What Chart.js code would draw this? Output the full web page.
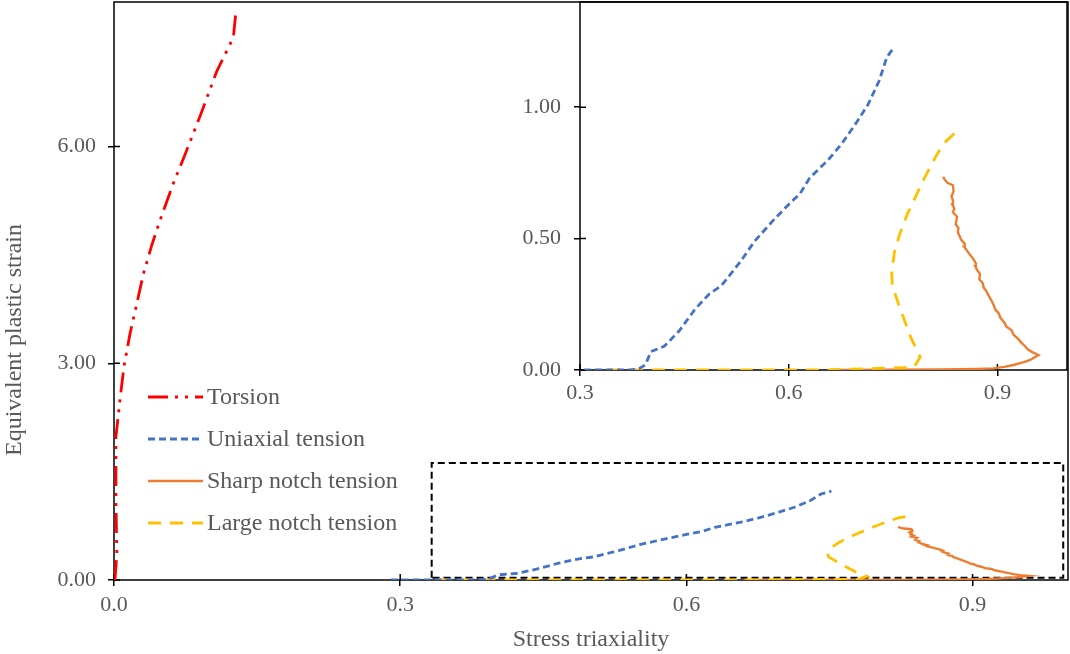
<!DOCTYPE html>
<html>
<head>
<meta charset="utf-8">
<script src="https://cdn.jsdelivr.net/npm/chart.js@4.4.1/dist/chart.umd.min.js"></script>
<style>
    html, body { margin: 0; padding: 0; background: #fff; }
    #wrap { position: relative; width: 1070px; height: 654px; }
    #mainChart { position: absolute; left: 0; top: 0; }
    #insetChart { position: absolute; left: 500px; top: 0; }
</style>
</head>
<body>
<div id="wrap">
    <canvas id="mainChart" width="1070" height="654"></canvas>
    <canvas id="insetChart" width="570" height="410"></canvas>
</div>
<script>
// Torsion path (stress triaxiality vs. equivalent plastic strain)
var torsionX = [0.001, 0.003, 0.002, 0.002, 0.0035, 0.0063, 0.0105, 0.0168, 0.0238, 0.0307, 0.0395, 0.0483, 0.0622, 0.0727, 0.0902, 0.1077, 0.1251, 0.1277];
var torsionY = [0.00, 0.37, 1.12, 1.98, 2.16, 2.50, 2.96, 3.41, 3.82, 4.23, 4.63, 4.98, 5.49, 5.83, 6.42, 7.04, 7.51, 7.85];

var uniaxialX = [0.29, 0.373, 0.385, 0.394, 0.402, 0.421, 0.443, 0.465, 0.486, 0.503, 0.530, 0.551, 0.578, 0.600, 0.616, 0.630, 0.657, 0.676, 0.697, 0.714, 0.730, 0.741, 0.752];
var uniaxialY = [0.00, 0.00, 0.005, 0.02, 0.07, 0.09, 0.15, 0.23, 0.29, 0.32, 0.41, 0.49, 0.57, 0.63, 0.67, 0.73, 0.80, 0.86, 0.94, 1.01, 1.10, 1.19, 1.23];

var sharpX = [0.66, 0.75, 0.82, 0.87, 0.894, 0.910, 0.923, 0.938, 0.947, 0.959, 0.950, 0.944, 0.938, 0.934, 0.929, 0.923, 0.920, 0.913, 0.910, 0.904, 0.902, 0.897, 0.895, 0.891, 0.888, 0.884, 0.880, 0.879, 0.874, 0.875, 0.871, 0.868, 0.869, 0.866, 0.860, 0.856, 0.852, 0.853, 0.848, 0.846, 0.843, 0.844, 0.840, 0.842, 0.836, 0.838, 0.835, 0.836, 0.834, 0.837, 0.836, 0.828, 0.824, 0.822];
var sharpY = [0.00, 0.001, 0.002, 0.004, 0.006, 0.012, 0.019, 0.03, 0.038, 0.057, 0.068, 0.078, 0.095, 0.105, 0.12, 0.135, 0.152, 0.165, 0.18, 0.20, 0.215, 0.23, 0.245, 0.266, 0.28, 0.30, 0.315, 0.33, 0.345, 0.365, 0.38, 0.395, 0.405, 0.42, 0.44, 0.455, 0.469, 0.48, 0.495, 0.507, 0.525, 0.54, 0.555, 0.583, 0.60, 0.615, 0.63, 0.646, 0.66, 0.68, 0.703, 0.712, 0.725, 0.735];

var largeX = [0.34, 0.50, 0.65, 0.78, 0.789, 0.776, 0.758, 0.749, 0.748, 0.752, 0.760, 0.770, 0.780, 0.795, 0.811, 0.822, 0.838];
var largeY = [0.00, 0.00, 0.00, 0.01, 0.05, 0.12, 0.25, 0.32, 0.37, 0.45, 0.52, 0.59, 0.646, 0.73, 0.81, 0.86, 0.90];

// dashed frame marking the zoomed region
var zoomBoxX = [0.333, 0.333, 0.995, 0.995, 0.333];
var zoomBoxY = [0.03, 1.62, 1.62, 0.03, 0.03];

var mainXTicks = [0, 0.3, 0.6, 0.9];
var mainYTicks = [0, 3, 6];
var insetXTicks = [0.3, 0.6, 0.9];
var insetYTicks = [0, 0.5, 1.0];

var legendLabels = ['Torsion', 'Uniaxial tension', 'Sharp notch tension', 'Large notch tension'];

var SERIF = '"Liberation Serif", "Times New Roman", serif';
var TEXT = '#595959';

Chart.defaults.font.family = SERIF;

function zip(xs, ys) {
    return xs.map(function (x, i) { return { x: x, y: ys[i] }; });
}

function line(label, xs, ys, color, dash, width) {
    return {
        label: label,
        data: zip(xs, ys),
        showLine: true,
        borderColor: color,
        backgroundColor: color,
        borderWidth: width || 2.8,
        borderDash: dash,
        pointRadius: 0,
        tension: 0,
        fill: false
    };
}

var torsionDs = function () { return line('Torsion', torsionX, torsionY, '#ff0000', [20, 7, 3, 7, 3, 7]); };
var uniaxialDs = function () { return line('Uniaxial tension', uniaxialX, uniaxialY, '#4472c4', [7, 4]); };
var sharpDs = function () { return line('Sharp notch tension', sharpX, sharpY, '#ed7d31', [], 2.4); };
var largeDs = function () { return line('Large notch tension', largeX, largeY, '#ffc000', [13, 9]); };

// box around the plot plus the inner half of each tick mark
var framePlugin = {
    id: 'frame',
    beforeDatasetsDraw: function (chart) {
        var a = chart.chartArea;
        var ctx = chart.ctx;
        ctx.save();
        ctx.strokeStyle = '#000';
        ctx.lineWidth = 1.5;
        ctx.strokeRect(a.left, a.top, a.right - a.left, a.bottom - a.top);
        ctx.beginPath();
        ['x', 'y'].forEach(function (id) {
            var s = chart.scales[id];
            s.ticks.forEach(function (t) {
                var p = s.getPixelForValue(t.value);
                if (id === 'x') {
                    ctx.moveTo(p, a.bottom);
                    ctx.lineTo(p, a.bottom - 6);
                } else {
                    ctx.moveTo(a.left, p);
                    ctx.lineTo(a.left + 6, p);
                }
            });
        });
        ctx.stroke();
        ctx.restore();
    }
};

// legend inside the plot and the rotated y title, which sits lower than centre
var inlineLegend = {
    id: 'inlineLegend',
    afterDraw: function (chart) {
        var ctx = chart.ctx;
        var row = 0;
        ctx.save();
        ctx.font = '24px ' + SERIF;
        ctx.textBaseline = 'middle';
        ctx.fillStyle = TEXT;
        legendLabels.forEach(function (name) {
            var ds = chart.data.datasets.filter(function (d) { return d.label === name; })[0];
            var y = 397 + row * 42;
            ctx.beginPath();
            ctx.strokeStyle = ds.borderColor;
            ctx.lineWidth = ds.borderWidth;
            ctx.setLineDash(ds.borderDash || []);
            ctx.moveTo(148, y);
            ctx.lineTo(203, y);
            ctx.stroke();
            ctx.setLineDash([]);
            ctx.fillText(name, 207, y + 1);
            row++;
        });

        ctx.translate(15, 340);
        ctx.rotate(-Math.PI / 2);
        ctx.textAlign = 'center';
        ctx.fillText('Equivalent plastic strain', 0, 0);
        ctx.restore();
    }
};

function axis(cfg) {
    var isX = cfg.dir === 'x';
    var o = {
        type: 'linear',
        min: cfg.min,
        max: cfg.max,
        afterBuildTicks: function (s) {
            s.ticks = cfg.ticks.map(function (v) { return { value: v }; });
        },
        afterFit: function (s) {
            if (isX) { s.height = cfg.size; } else { s.width = cfg.size; }
            // edge labels must not shrink the plot area
            s.paddingTop = 0;
            s.paddingBottom = 0;
            s.paddingLeft = 0;
            s.paddingRight = 0;
        },
        ticks: {
            color: TEXT,
            font: { size: 22, family: SERIF },
            padding: cfg.pad,
            maxRotation: 0,
            autoSkip: false,
            callback: function (v) { return Number(v).toFixed(cfg.dec); }
        },
        grid: {
            display: true,
            drawOnChartArea: false,
            drawTicks: true,
            tickLength: 6,
            color: '#000',
            lineWidth: 1.5
        },
        border: { display: false }
    };
    if (cfg.title) {
        o.title = {
            display: true,
            text: cfg.title,
            color: TEXT,
            font: { size: 24, family: SERIF },
            padding: { top: 0, bottom: 0 }
        };
    }
    return o;
}

function baseOptions(padding, xAxis, yAxis) {
    return {
        responsive: false,
        animation: false,
        events: [],
        layout: { padding: padding },
        plugins: { legend: { display: false }, tooltip: { enabled: false } },
        scales: { x: xAxis, y: yAxis }
    };
}

var boxDs = line('zoom', zoomBoxX, zoomBoxY, '#000', [7, 4], 2);

new Chart(document.getElementById('mainChart'), {
    type: 'scatter',
    data: { datasets: [torsionDs(), uniaxialDs(), largeDs(), sharpDs(), boxDs] },
    options: baseOptions(
        { top: 2, right: 2, left: 0, bottom: 0 },
        axis({ dir: 'x', min: 0, max: 1.0, ticks: mainXTicks, dec: 1, size: 74, pad: 6, title: 'Stress triaxiality' }),
        axis({ dir: 'y', min: 0, max: 8.0, ticks: mainYTicks, dec: 2, size: 114, pad: 12 })
    ),
    plugins: [framePlugin, inlineLegend]
});

new Chart(document.getElementById('insetChart'), {
    type: 'scatter',
    data: { datasets: [uniaxialDs(), largeDs(), sharpDs()] },
    options: baseOptions(
        { top: 2, right: 3, left: 0, bottom: 0 },
        axis({ dir: 'x', min: 0.3, max: 1.0, ticks: insetXTicks, dec: 1, size: 40, pad: 4 }),
        axis({ dir: 'y', min: 0, max: 1.4, ticks: insetYTicks, dec: 2, size: 80, pad: 13 })
    ),
    plugins: [framePlugin]
});
</script>
</body>
</html>
